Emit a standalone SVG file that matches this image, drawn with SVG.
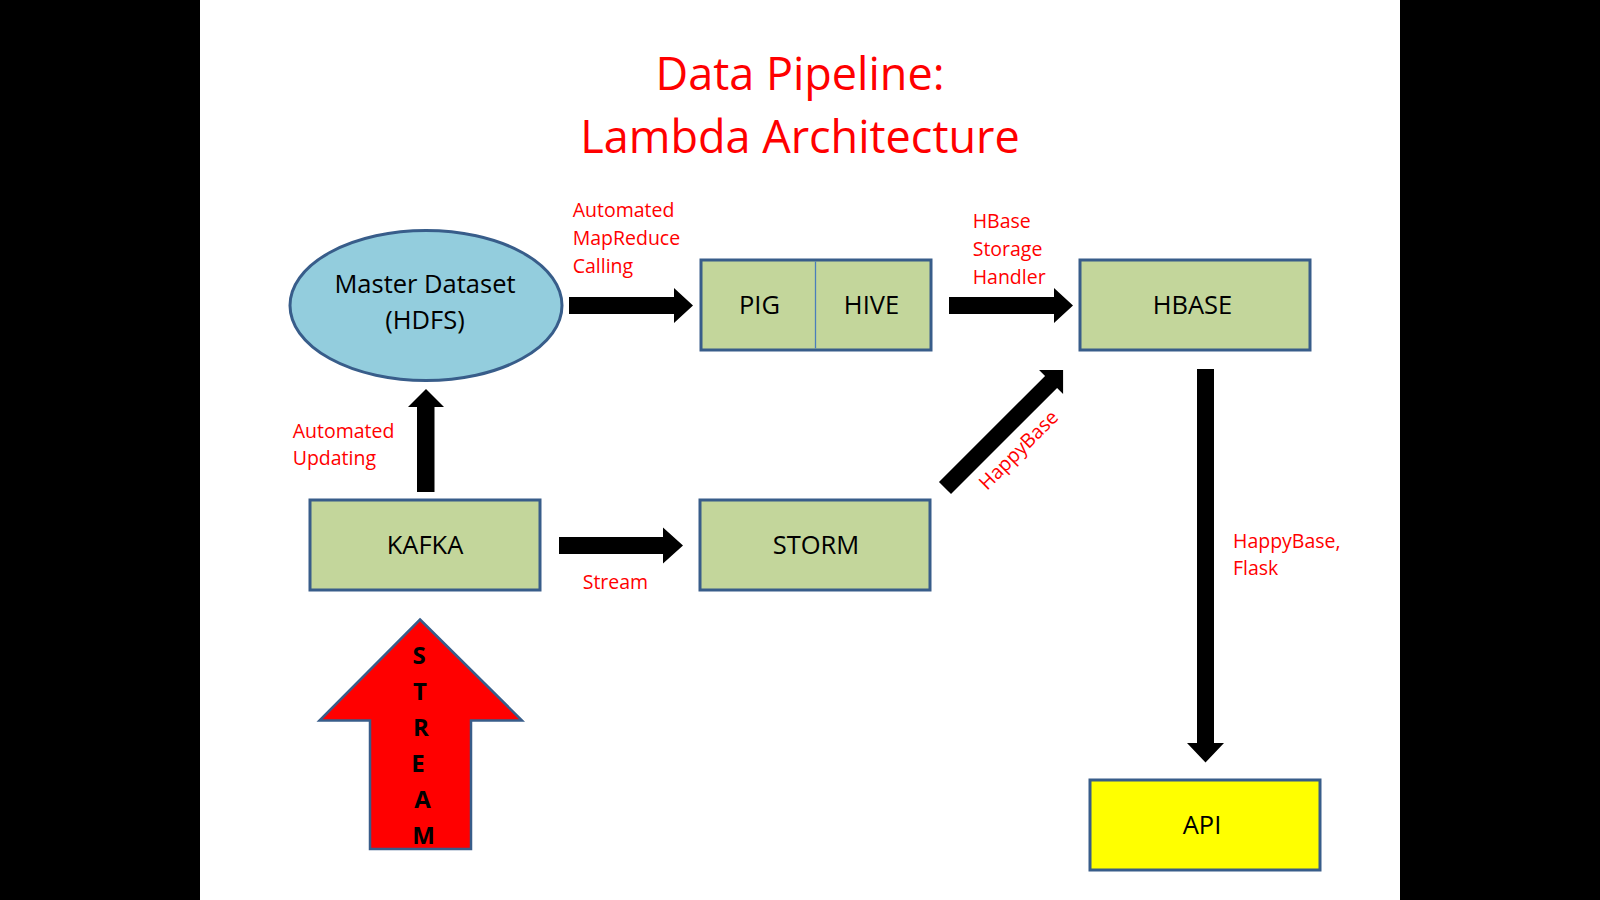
<svg xmlns="http://www.w3.org/2000/svg" width="1600" height="900" viewBox="0 0 1600 900">
  <style>
    .box { fill: #C3D69B; stroke: #385D8A; stroke-width: 3; }
    .lbl { font-family: "Open Sans", "Liberation Sans", sans-serif; font-size: 25.5px; fill: #000; text-anchor: middle; }
    .note { font-family: "Open Sans", "Liberation Sans", sans-serif; font-size: 19.5px; fill: #FF0000; }
    .title { font-family: "Open Sans", "Liberation Sans", sans-serif; font-size: 45px; fill: #FF0000; text-anchor: middle; }
    .blk { fill: #000; }
    .stream { font-family: "Open Sans", "Liberation Sans", sans-serif; font-size: 24px; font-weight: bold; fill: #000; text-anchor: middle; }
  </style>
  <rect x="0" y="0" width="1600" height="900" fill="#000"/>
  <rect x="200" y="0" width="1200" height="900" fill="#FFFFFF"/>

  <g id="title">
    <text class="title" x="800" y="90">Data Pipeline:</text>
    <text class="title" x="800" y="153">Lambda Architecture</text>
  </g>

  <g id="node-master-dataset">
    <ellipse cx="426" cy="305.5" rx="136" ry="75" fill="#93CDDD" stroke="#385D8A" stroke-width="3"/>
    <text class="lbl" x="425" y="293">Master Dataset</text>
    <text class="lbl" x="425" y="329">(HDFS)</text>
  </g>

  <g id="node-pig-hive">
    <rect class="box" x="701" y="260" width="230" height="90"/>
    <line x1="815.5" y1="261.5" x2="815.5" y2="348.5" stroke="#4A7EBB" stroke-width="1.3"/>
    <text class="lbl" x="759.5" y="313.5">PIG</text>
    <text class="lbl" x="871.5" y="313.5">HIVE</text>
  </g>

  <g id="node-hbase">
    <rect class="box" x="1080" y="260" width="230" height="90"/>
    <text class="lbl" x="1192.5" y="314">HBASE</text>
  </g>

  <g id="node-kafka">
    <rect class="box" x="310" y="500" width="230" height="90"/>
    <text class="lbl" x="425" y="554">KAFKA</text>
  </g>

  <g id="node-storm">
    <rect class="box" x="700" y="500" width="230" height="90"/>
    <text class="lbl" x="816" y="554">STORM</text>
  </g>

  <g id="node-api">
    <rect x="1090" y="780" width="230" height="90" fill="#FFFF00" stroke="#385D8A" stroke-width="3"/>
    <text class="lbl" x="1202" y="834">API</text>
  </g>

  <g id="node-stream-input">
    <polygon points="420,619.5 522,720.5 471,720.5 471,849 370,849 370,720.5 319.5,720.5" fill="#FF0000" stroke="#385D8A" stroke-width="2.5" stroke-linejoin="miter"/>
    <text class="stream" x="419" y="664">S</text>
    <text class="stream" x="420" y="700">T</text>
    <text class="stream" x="421" y="736">R</text>
    <text class="stream" x="418" y="772">E</text>
    <text class="stream" x="422.5" y="807.5">A</text>
    <text class="stream" x="423.5" y="844">M</text>
  </g>

  <g id="connectors">
    <polygon class="blk" points="569,297 674,297 674,288 693,305.5 674,323 674,314 569,314"/>
    <polygon class="blk" points="949,297 1054,297 1054,288 1073,305.5 1054,323 1054,314 949,314"/>
    <polygon class="blk" points="559,537 663,537 663,527.5 683,545.5 663,563.5 663,554 559,554"/>
    <polygon class="blk" points="417,492 417,407 408,407 426,389 444,407 434.5,407 434.5,492"/>
    <polygon class="blk" points="1197,369 1214,369 1214,743 1224,743 1205.5,762.5 1187,743 1197,743"/>
    <polygon class="blk" transform="translate(945,488) rotate(-45)" points="0,-8.5 150,-8.5 150,-17 167,0 150,17 150,8.5 0,8.5"/>

    <text class="note" x="572.7" y="217.3">Automated</text>
    <text class="note" x="572.7" y="245">MapReduce</text>
    <text class="note" x="572.7" y="272.7">Calling</text>

    <text class="note" x="972.7" y="227.7">HBase</text>
    <text class="note" x="972.7" y="255.7">Storage</text>
    <text class="note" x="972.7" y="284">Handler</text>

    <text class="note" x="292.7" y="437.7">Automated</text>
    <text class="note" x="292.7" y="465">Updating</text>

    <text class="note" x="582.7" y="589">Stream</text>

    <text class="note" transform="translate(987,491) rotate(-45)" x="0" y="0">HappyBase</text>

    <text class="note" x="1233" y="548.3">HappyBase,</text>
    <text class="note" x="1233" y="575">Flask</text>
  </g>
</svg>
